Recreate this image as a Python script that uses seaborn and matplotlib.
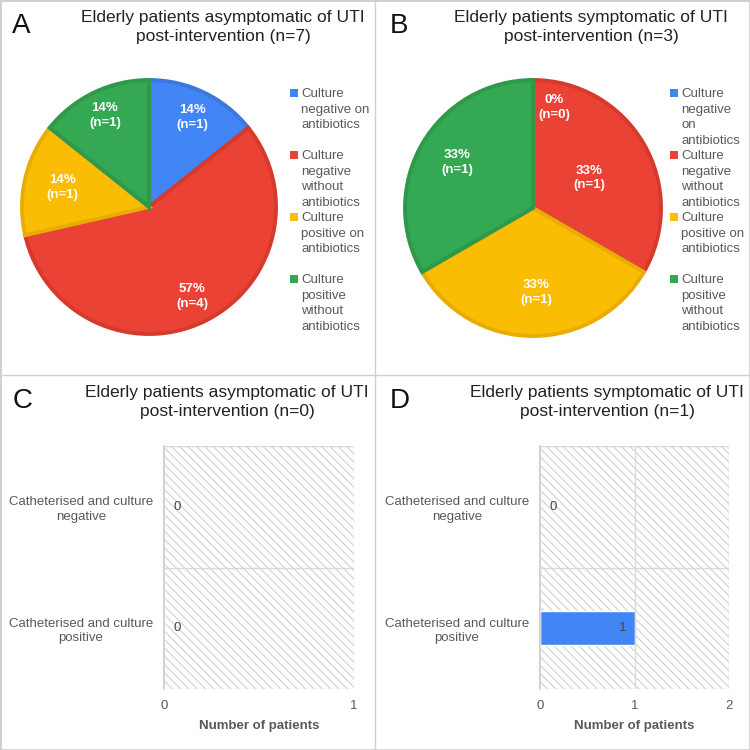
import numpy as np
import pandas as pd
import matplotlib
matplotlib.use("Agg")
import matplotlib.pyplot as plt
import seaborn as sns
from matplotlib.patches import Patch, Rectangle
from matplotlib.lines import Line2D
from matplotlib.legend_handler import HandlerPatch

# ---- data ----
slice_names_a = ["Culture\nnegative on\nantibiotics\n",
                 "Culture\nnegative\nwithout\nantibiotics",
                 "Culture\npositive on\nantibiotics\n",
                 "Culture\npositive\nwithout\nantibiotics"]
slice_names_b = ["Culture\nnegative\non\nantibiotics",
                 "Culture\nnegative\nwithout\nantibiotics",
                 "Culture\npositive on\nantibiotics\n",
                 "Culture\npositive\nwithout\nantibiotics"]
counts_a = [1, 4, 1, 1]
counts_b = [0, 1, 1, 1]

bar_categories = ["Catheterised and culture\nnegative",
                  "Catheterised and culture\npositive"]
counts_c = [0, 0]
counts_d = [0, 1]

title_a = "Elderly patients asymptomatic of UTI\npost-intervention (n=7)"
title_b = "Elderly patients symptomatic of UTI\npost-intervention (n=3)"
title_c = "Elderly patients asymptomatic of UTI\npost-intervention (n=0)"
title_d = "Elderly patients symptomatic of UTI\npost-intervention (n=1)"

slice_colors = ["#4285F4", "#EA4335", "#FBBC04", "#34A853"]
edge_colors = ["#3b77dc", "#d63a2d", "#e8ad03", "#2e994a"]
GREY = "#595959"
LEG_LS = 1.4

sns.set_theme(style="white")
plt.rcParams["font.family"] = ["Liberation Sans", "DejaVu Sans"]
plt.rcParams["hatch.linewidth"] = 0.7

W = H = 750
fig = plt.figure(figsize=(7.5, 7.5), dpi=100)


def px_axes(x0, y0, x1, y1):
    return fig.add_axes([x0 / W, 1 - y1 / H, (x1 - x0) / W, (y1 - y0) / H])


class FirstLineSquare(HandlerPatch):
    # square next to the first line of a multi-line label
    def create_artists(self, legend, orig_handle, xdescent, ydescent,
                       width, height, fontsize, trans):
        nl = orig_handle.get_label().count("\n")
        side = 0.62 * fontsize
        y = (height - side) / 2 + nl * 0.5 * 0.88 * LEG_LS * fontsize
        p = Rectangle((-xdescent, y - ydescent), side, side,
                      facecolor=orig_handle.get_facecolor(), edgecolor="none",
                      transform=trans)
        return [p]


def draw_pie(cx, cy, r, counts, names, label_pos, leg_xy):
    lim = 1.06
    ax = px_axes(cx - r * lim, cy - r * lim, cx + r * lim, cy + r * lim)
    wedges, _ = ax.pie(counts, colors=slice_colors, startangle=90,
                       counterclock=False, wedgeprops=dict(linewidth=2.8))
    for w, ec in zip(wedges, edge_colors):
        w.set_edgecolor(ec)
    ax.set_xlim(-lim, lim)
    ax.set_ylim(-lim, lim)
    ax.set_aspect("equal")
    total = sum(counts)
    for w, n, (rr, dth) in zip(wedges, counts, label_pos):
        ang = np.deg2rad((w.theta1 + w.theta2) / 2 + dth)
        ax.text(rr * np.cos(ang), rr * np.sin(ang),
                f"{n / total * 100:.0f}%\n(n={n})", ha="center", va="center",
                color="white", fontweight="bold", fontsize=9.5, linespacing=1.3)
    handles = [Patch(facecolor=c, label=l) for c, l in zip(slice_colors, names)]
    leg = fig.legend(handles=handles, loc="upper left",
                     bbox_to_anchor=(leg_xy[0] / W, 1 - leg_xy[1] / H),
                     frameon=False, fontsize=9.5, borderpad=0, borderaxespad=0,
                     handlelength=0.6, handletextpad=0.25, labelspacing=0.25,
                     handler_map={Patch: FirstLineSquare()})
    for t in leg.get_texts():
        t.set_color(GREY)
        t.set_linespacing(LEG_LS)
    return ax


def draw_bars(x0, y0, x1, y1, counts, xmax):
    ax = px_axes(x0, y0, x1, y1)
    df = pd.DataFrame({"category": bar_categories, "patients": counts})
    sns.barplot(data=df, x="patients", y="category", color=slice_colors[0],
                saturation=1, width=0.28, ax=ax)
    ax.patch.set_facecolor("white")
    ax.patch.set_hatch("\\\\\\\\")
    ax.patch.set_edgecolor("#cccccc")
    ax.set_xlim(0, xmax)
    ax.set_xticks(range(xmax + 1))
    ax.set_yticks([-0.5, 0.5, 1.5], minor=True)
    ax.set_ylim(1.5, -0.5)
    ax.grid(axis="x", which="major", color="#d9d9d9", linewidth=1)
    ax.grid(axis="y", which="minor", color="#d9d9d9", linewidth=1)
    ax.set_axisbelow(False)
    for s in ["top", "right", "bottom"]:
        ax.spines[s].set_visible(False)
    ax.spines["left"].set_color("#c8c8c8")
    ax.tick_params(axis="y", which="both", length=0, pad=8, labelsize=9.5,
                   labelcolor=GREY)
    ax.tick_params(axis="x", length=0, pad=8, labelsize=9.5, labelcolor=GREY)
    for lbl in ax.get_yticklabels():
        lbl.set_multialignment("center")
        lbl.set_linespacing(1.3)
    ax.set_ylabel("")
    ax.set_xlabel("Number of patients", fontweight="bold", color=GREY,
                  fontsize=9.5, labelpad=6)
    for bar in ax.patches:
        w = bar.get_width()
        yc = bar.get_y() + bar.get_height() / 2
        if w > 0:
            ax.annotate(f"{w:.0f}", (w, yc), xytext=(-6, 0),
                        textcoords="offset points", ha="right", va="center",
                        fontsize=9.5, color="#444444")
        else:
            ax.annotate(f"{w:.0f}", (w, yc), xytext=(7, 0),
                        textcoords="offset points", ha="left", va="center",
                        fontsize=9.5, color="#444444")
    return ax


draw_pie(149, 207, 127, counts_a, slice_names_a,
         [(0.785, 0), (0.785, 0), (0.70, 0), (0.80, 0)], (290, 88))
draw_pie(533, 208, 128, counts_b, slice_names_b,
         [(0.80, -12), (0.50, -2), (0.66, 2), (0.69, -1)], (670, 88))
draw_bars(164, 446, 354, 689, counts_c, 1)
draw_bars(540, 446, 729, 689, counts_d, 2)

# titles and panel letters
for x, y, t in [(223, 10, title_a), (591, 10, title_b),
                (227, 385, title_c), (607, 385, title_d)]:
    fig.text(x / W, 1 - y / H, t, ha="center", va="top", fontsize=12.5,
             color="#222222", linespacing=1.3)
for x, y, t in [(12, 33, "A"), (390, 33, "B"), (13, 408, "C"), (390, 408, "D")]:
    fig.text(x / W, 1 - y / H, t, ha="left", va="baseline", fontsize=20,
             color="#111111")

# panel frames
border = "#cfcfcf"
fig.add_artist(Rectangle((0, 0), 1, 1, transform=fig.transFigure, fill=False,
                         edgecolor=border, linewidth=2))
fig.add_artist(Line2D([0.5, 0.5], [0, 1], transform=fig.transFigure,
                      color=border, linewidth=1))
fig.add_artist(Line2D([0, 1], [0.5, 0.5], transform=fig.transFigure,
                      color=border, linewidth=1))

fig.savefig("out.png", dpi=100)
